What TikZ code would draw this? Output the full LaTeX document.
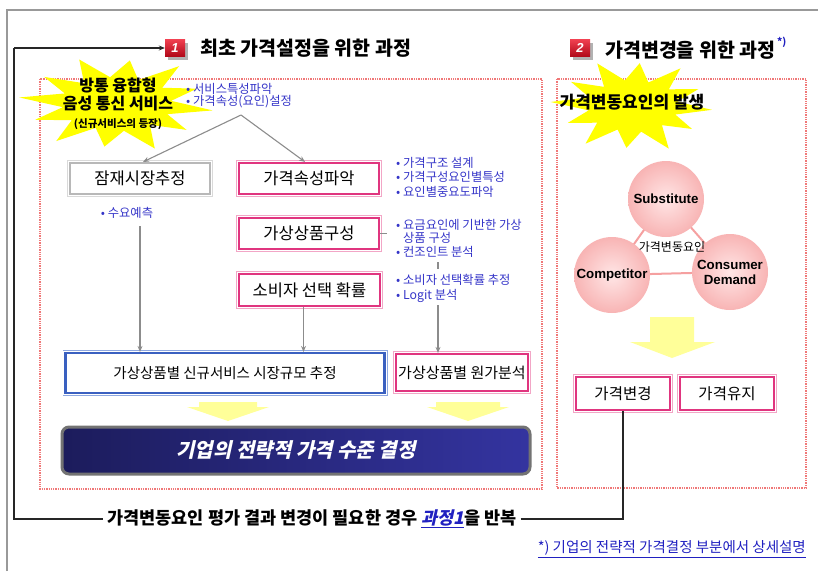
\documentclass[tikz,border=0pt]{standalone}
\usepackage{fontspec}
\setmainfont{Noto Sans CJK KR}
\newfontfamily\arialf{Liberation Sans}
\newfontfamily\krslant[FakeSlant=0.22]{Noto Sans CJK KR}
\usetikzlibrary{arrows.meta,shadows,calc}
\definecolor{bulletblue}{HTML}{3535C8}
\definecolor{pinkB}{HTML}{E0357F}
\definecolor{pinkL}{HTML}{F2A6C6}
\definecolor{blueB}{HTML}{3A60C0}
\definecolor{blueL}{HTML}{8FA8E0}
\definecolor{dotred}{HTML}{F07878}
\definecolor{burstY}{HTML}{FFFF00}
\definecolor{arrowY}{HTML}{FFFF99}
\definecolor{navyA}{HTML}{1C1C5C}
\definecolor{navyB}{HTML}{3434A0}
\definecolor{circP}{HTML}{F8B4B4}
\definecolor{circL}{HTML}{FFE6E6}
\definecolor{linkP}{HTML}{F5A0A0}
\definecolor{iconT}{HTML}{F04050}
\definecolor{iconB}{HTML}{B00818}
\definecolor{linkBlue}{HTML}{2020C0}
\begin{document}
\begin{tikzpicture}[x=1pt,y=-1pt,
  pinkbox/.style={fill=white, draw=pinkB, line width=2.2pt,
     preaction={draw=pinkL, line width=6pt},
     preaction={draw=white, line width=4.2pt},
     inner sep=0pt, font=\fontsize{16.5}{18}\selectfont},
  graybox/.style={pinkbox, draw=black!28, preaction={draw=black!15, line width=6pt},
     preaction={draw=white, line width=4.2pt}},
  bluebox/.style={pinkbox, draw=blueB, preaction={draw=blueL, line width=6pt},
     preaction={draw=white, line width=4.2pt}},
  garrow/.style={draw=black!45, line width=1.1pt, -{Stealth[length=6pt,width=5pt]}},
  gline/.style={draw=black!45, line width=1.1pt},
  loopline/.style={draw=black!85, line width=1.6pt},
  bullets/.style={anchor=north west, inner sep=0pt, align=left, text=bulletblue,
     font=\fontsize{12.3}{#1}\selectfont},
  icon/.style={minimum width=20pt, minimum height=17pt, inner sep=0pt,
     top color=iconT, bottom color=iconB, text=white,
     font=\arialf\bfseries\itshape\fontsize{13}{13}\selectfont,
     drop shadow={shadow xshift=3pt, shadow yshift=-3pt, fill=black!60}},
  title/.style={anchor=west, inner sep=0pt, font=\bfseries\fontsize{19.5}{21}\selectfont},
  factor/.style={circle, minimum size=76pt, inner sep=0pt, inner color=circL, outer color=circP,
     align=center, font=\arialf\bfseries\fontsize{13.3}{15}\selectfont},
  yarrow/.style={fill=arrowY}
]
\useasboundingbox (0,0) rectangle (818,571);

% outer frame
\draw[black!40, line width=1.5pt] (7,571) -- (7,10) -- (818,10);

% dotted region boxes
\draw[dotred, densely dotted, line width=1.3pt] (40,79) rectangle (542,489);
\draw[dotred, densely dotted, line width=1.3pt] (557,79) rectangle (806,488);

% titles
\node[icon] (icon1) at (175,48) {1};
\node[title] (title1) at (200,48) {최초 가격설정을 위한 과정};
\node[icon] (icon2) at (580,48) {2};
\node[title] (title2) at (605,50) {가격변경을 위한 과정};
\node[anchor=west, inner sep=0pt, text=linkBlue, font=\bfseries\fontsize{10}{10}\selectfont] (star) at ([xshift=1pt,yshift=-2pt]title2.north east) {*)};

% starburst 1
\begin{scope}[shift={(117,104)}, xscale=2.1]
\fill[burstY] (8:46) \foreach \a/\r in {23/26,38/42,53/26,68/48,83/27,98/43,113/26,128/47,143/27,158/42,173/26,188/47,203/27,218/44,233/26,248/48,263/27,278/44,293/26,308/48,323/27,338/41,353/26} { -- (\a:\r) } -- cycle;
\end{scope}
\node[align=center, inner sep=0pt, font=\bfseries\fontsize{16}{17.5}\selectfont] (burst1) at (118,104)
  {방통 융합형\\음성 통신 서비스\\[1pt]{\fontsize{10.5}{17.5}\selectfont (신규서비스의 등장)}};

% starburst 2
\begin{scope}[shift={(633,106)}, xscale=1.8]
\fill[burstY] (5:44) \foreach \a/\r in {20/25,35/40,50/25,65/47,80/26,95/42,110/25,125/46,140/26,155/40,170/25,185/46,200/26,215/42,230/25,245/47,260/26,275/43,290/25,305/46,320/26,335/40,350/25} { -- (\a:\r) } -- cycle;
\end{scope}
\node[inner sep=0pt, font=\bfseries\fontsize{17}{18}\selectfont] (burst2) at (632,102) {가격변동요인의 발생};

% bullets
\node[bullets=12] (b1) at (186,83) {• 서비스특성파악\\• 가격속성(요인)설정};
\node[bullets=12, anchor=center] (b2) at (127,213) {• 수요예측};
\node[bullets=14.5] (b3) at (396,157) {• 가격구조 설계\\• 가격구성요인별특성\\• 요인별중요도파악};
\node[bullets=13.5] (b4) at (396,219) {• 요금요인에 기반한 가상\\\phantom{• }상품 구성\\• 컨조인트 분석};
\node[bullets=15] (b5) at (396,274) {• 소비자 선택확률 추정\\• Logit 분석};

% left process boxes
\node[graybox, minimum width=140pt, minimum height=31pt] (jam) at (140,178.5) {잠재시장추정};
\node[pinkbox, minimum width=140pt, minimum height=31pt] (attr) at (309,178.5) {가격속성파악};
\node[pinkbox, minimum width=140pt, minimum height=31pt] (virt) at (309,233.5) {가상상품구성};
\node[pinkbox, minimum width=141pt, minimum height=32pt] (choice) at (309.5,290) {소비자 선택 확률};
\node[bluebox, minimum width=319pt, minimum height=40pt, font=\fontsize{14.5}{16}\selectfont] (mkt) at (225,373) {가상상품별 신규서비스 시장규모 추정};
\node[pinkbox, minimum width=132pt, minimum height=37pt, font=\fontsize{15}{16}\selectfont] (cost) at (462,372.5) {가상상품별 원가분석};

% connectors
\coordinate (apex) at (241,115);
\draw[garrow] (apex) -- ([xshift=3pt]jam.north);
\draw[garrow] (apex) -- ([xshift=-4pt]attr.north);
\coordinate (d1) at (140,226);
\draw[garrow] (d1) -- (d1 |- mkt.north);
\draw[garrow] ([xshift=-6pt]choice.south) -- ([xshift=-6pt]choice.south |- mkt.north);
\coordinate (d3) at (438,305);
\draw[garrow] (d3) -- (d3 |- cost.north);
\draw[gline] (virt.east) -- ++(7,0) coordinate (t1);
\coordinate (t2a) at (438,262);
\coordinate (t2b) at (438,269);
\draw[gline] (t2a) -- (t2b);

% yellow arrows
\fill[yarrow] (199,402) -- (257,402) -- (257,407) -- (269,407) -- (228,421) -- (187,407) -- (199,407) -- cycle;
\fill[yarrow] (436,402) -- (500,402) -- (500,407) -- (509,407) -- (468,421) -- (427,407) -- (436,407) -- cycle;
\fill[yarrow] (650,317) -- (694,317) -- (694,342) -- (715,342) -- (672,358) -- (630,342) -- (650,342) -- cycle;

% result box
\node[rounded corners=7pt, draw=black!55, line width=3pt, left color=navyA, right color=navyB,
  minimum width=468pt, minimum height=47pt, text=white,
  font=\krslant\bfseries\fontsize{20}{22}\selectfont] (nav) at (296,450.5) {기업의 전략적 가격 수준 결정};

% factors
\coordinate (subc) at (666,199);
\coordinate (compc) at (612,275);
\coordinate (consc) at (730,272);
\draw[linkP, line width=2pt] (subc) -- (compc) -- (consc) -- cycle;
\node[factor] (sub) at (subc) {Substitute};
\node[factor] (comp) at (compc) {Competitor};
\node[factor] (cons) at (consc) {Consumer\\Demand};
\node[inner sep=0pt, font=\fontsize{12}{13}\selectfont] (factorlbl) at (672,247) {가격변동요인};

% decision boxes
\node[pinkbox, minimum width=94pt, minimum height=33pt, font=\fontsize{15.5}{17}\selectfont] (chg) at (623,393.5) {가격변경};
\node[pinkbox, minimum width=94pt, minimum height=33pt, font=\fontsize{15.5}{17}\selectfont] (keep) at (727,393.5) {가격유지};

% feedback loop
\node[inner sep=4pt, font=\bfseries\fontsize{17.5}{19}\selectfont] (loop) at (312,519)
  {가격변동요인 평가 결과 변경이 필요한 경우 {\color{linkBlue}\underline{\krslant 과정1}}을 반복};
\coordinate (lt) at (14,48);
\coordinate (lb) at (14,519);
\draw[loopline, -{Stealth[length=6pt,width=5pt]}] (lt) -- (lt -| icon1.west);
\draw[loopline] (lt) -- (lb) -- (loop.west);
\draw[loopline] (loop.east) -- (loop.east -| chg.south) -- (chg.south);

% footnote
\node[anchor=east, inner sep=0pt, text=linkBlue, font=\fontsize{14.5}{16}\selectfont] (foot) at (806,549)
  {\underline{*) 기업의 전략적 가격결정 부분에서 상세설명}};
\end{tikzpicture}
\end{document}
